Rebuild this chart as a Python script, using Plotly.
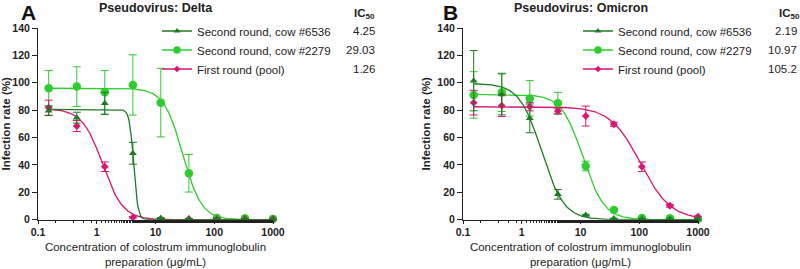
import numpy as np
import plotly.graph_objects as go

# ---------------- data ----------------
conc = [0.152, 0.457, 1.37, 4.12, 12.3, 37.0, 111.0, 333.0, 1000.0]
series_names = ["Second round, cow #6536", "Second round, cow #2279", "First round (pool)"]

# Delta
delta_6536 = [79.5, 74.5, 85.0, 48.5, 1.0, 0.5, 0.5, 0.5, 0.5]
delta_6536_err = [3.5, 4.0, 8.0, 8.0, 0.5, 0.3, 0.3, 0.3, 0.3]
delta_2279 = [96.0, 97.2, 93.0, 98.4, 85.5, 33.9, 1.2, 1.0, 0.6]
delta_2279_err = [13.0, 14.5, 16.0, 22.0, 25.0, 13.7, 0.5, 0.5, 0.3]
delta_pool = [81.8, 68.4, 38.7, 1.7, 0.5, 0.5, 0.5, 0.5, 0.5]
delta_pool_err = [5.5, 4.0, 3.5, 0.5, 0.3, 0.3, 0.3, 0.3, 0.3]

# Omicron
omi_6536 = [101.5, 91.5, 74.0, 18.5, 3.4, 0.8, 0.5, 0.5, 0.5]
omi_6536_err = [22.0, 15.0, 10.5, 3.5, 0.5, 0.3, 0.3, 0.3, 0.3]
omi_2279 = [91.1, 93.0, 88.6, 85.0, 39.2, 7.1, 1.2, 1.0, 0.6]
omi_2279_err = [17.0, 14.0, 13.0, 8.0, 3.5, 1.0, 0.4, 0.3, 0.3]
omi_pool = [85.5, 83.3, 82.5, 79.4, 75.7, 69.7, 38.7, 10.2, 2.2]
omi_pool_err = [9.0, 8.0, 3.0, 2.0, 7.3, 1.5, 3.5, 1.0, 0.5]

# fitted 4PL parameters (top, IC50, hill), bottom = 0
delta_top = [80.5, 96.0, 81.0]
delta_ic50 = [4.25, 29.03, 1.26]
delta_hill = [12.0, 2.7, 2.5]
omi_top = [99.5, 91.5, 82.5]
omi_ic50 = [2.19, 10.97, 105.2]
omi_hill = [2.3, 2.4, 1.7]

delta_ic50_text = ["4.25", "29.03", "1.26"]
omi_ic50_text = ["2.19", "10.97", "105.2"]

x_ticks = [0.1, 1, 10, 100, 1000]
x_tick_labels = ["0.1", "1", "10", "100", "1000"]
y_ticks = [0, 20, 40, 60, 80, 100, 120, 140]

# ---------------- style ----------------
colors = ["#1f7a22", "#2ecc2e", "#d8166f"]
symbols = ["triangle-up", "circle", "diamond"]
msizes = [7, 8.5, 6]
FONT = "Arial, Liberation Sans, sans-serif"

fig = go.Figure()

def curve(top, ic50, hill):
    xs = np.logspace(np.log10(conc[0]), np.log10(conc[-1]), 300)
    ys = top / (1.0 + (xs / ic50) ** hill)
    return xs, ys

panels = [
    dict(xa="x", ya="y", legend="legend",
         vals=[delta_6536, delta_2279, delta_pool],
         errs=[delta_6536_err, delta_2279_err, delta_pool_err],
         top=delta_top, ic50=delta_ic50, hill=delta_hill),
    dict(xa="x2", ya="y2", legend="legend2",
         vals=[omi_6536, omi_2279, omi_pool],
         errs=[omi_6536_err, omi_2279_err, omi_pool_err],
         top=omi_top, ic50=omi_ic50, hill=omi_hill),
]

draw_order = [1, 2, 0]
for p in panels:
    for i in draw_order:
        xs, ys = curve(p["top"][i], p["ic50"][i], p["hill"][i])
        fig.add_trace(go.Scatter(x=xs, y=ys, mode="lines", xaxis=p["xa"], yaxis=p["ya"],
                                 line=dict(color=colors[i], width=1.3),
                                 showlegend=False, hoverinfo="skip", cliponaxis=False))
    for i in draw_order:
        fig.add_trace(go.Scatter(x=conc, y=p["vals"][i], mode="markers",
                                 xaxis=p["xa"], yaxis=p["ya"],
                                 marker=dict(color=colors[i], symbol=symbols[i], size=msizes[i],
                                             line=dict(width=0)),
                                 error_y=dict(type="data", array=p["errs"][i], color=colors[i],
                                              thickness=1, width=4),
                                 showlegend=False, cliponaxis=False))
    for i in range(3):
        fig.add_trace(go.Scatter(x=[None], y=[None], mode="lines+markers",
                                 xaxis=p["xa"], yaxis=p["ya"], name=series_names[i],
                                 legend=p["legend"],
                                 line=dict(color=colors[i], width=1.3),
                                 marker=dict(color=colors[i], symbol=symbols[i], size=msizes[i] - 1)))

axis_common = dict(showline=True, linecolor="#222", linewidth=1, ticks="outside",
                   tickcolor="#222", showgrid=False, zeroline=False, automargin=False,
                   tickfont=dict(family=FONT, size=10.5, color="#222", weight="bold"))

xaxis_common = dict(axis_common, type="log", range=[-1, 3], tickvals=x_ticks,
                    ticktext=x_tick_labels, ticklen=3,
                    minor=dict(ticks="outside", ticklen=2.5, tickcolor="#222", showgrid=False),
                    title=dict(text="Concentration of colostrum immunoglobulin<br>preparation (μg/mL)",
                               font=dict(family=FONT, size=11.5, color="#222"), standoff=5))
yaxis_common = dict(axis_common, range=[0, 140], tickvals=y_ticks, ticklen=5,
                    title=dict(text="<b>Infection rate (%)</b>",
                               font=dict(family=FONT, size=11.5, color="#222"), standoff=4))

ydom = [(269 - 219.7) / 269, (269 - 28) / 269]
fig.update_layout(
    width=800, height=269,
    margin=dict(l=0, r=0, t=0, b=0, autoexpand=False),
    paper_bgcolor="white", plot_bgcolor="white",
    font=dict(family=FONT, color="#222"),
    xaxis=dict(xaxis_common, domain=[38 / 800, 273 / 800], anchor="y"),
    yaxis=dict(yaxis_common, domain=ydom, anchor="x"),
    xaxis2=dict(xaxis_common, domain=[463 / 800, 698 / 800], anchor="y2"),
    yaxis2=dict(yaxis_common, domain=ydom, anchor="x2"),
    legend=dict(x=157 / 800, y=1 - 16.5 / 269, xanchor="left", yanchor="top",
                font=dict(family=FONT, size=11.5, color="#222"), bgcolor="rgba(0,0,0,0)",
                tracegroupgap=0, itemwidth=30),
    legend2=dict(x=578 / 800, y=1 - 16.5 / 269, xanchor="left", yanchor="top",
                 font=dict(family=FONT, size=11.5, color="#222"), bgcolor="rgba(0,0,0,0)",
                 tracegroupgap=0, itemwidth=30),
    showlegend=True,
)

annotations = []
for letter, lx, title, tx in [("A", 28.5, "Pseudovirus: Delta", 155.5),
                              ("B", 450, "Pseudovirus: Omicron", 580.5)]:
    annotations.append(dict(text=f"<b>{letter}</b>", x=lx / 800, y=1 - 12 / 269, xref="paper",
                            yref="paper", showarrow=False, xanchor="center", yanchor="middle",
                            font=dict(family=FONT, size=21, color="#111")))
    annotations.append(dict(text=f"<b>{title}</b>", x=tx / 800, y=1 - 7.5 / 269, xref="paper",
                            yref="paper", showarrow=False, xanchor="center", yanchor="middle",
                            font=dict(family=FONT, size=12.5, color="#222")))

for head_x, head_anchor, right_x, texts in [(377, "right", 377, delta_ic50_text),
                                            (777, "left", 799, omi_ic50_text)]:
    annotations.append(dict(text="<b>IC<sub>50</sub></b>", x=head_x / 800, y=1 - 14 / 269,
                            xref="paper", yref="paper", showarrow=False, xanchor=head_anchor,
                            yanchor="middle", font=dict(family=FONT, size=11.5, color="#222")))
    for k, t in enumerate(texts):
        annotations.append(dict(text=t, x=right_x / 800, y=1 - (31.5 + 18.8 * k) / 269,
                                xref="paper", yref="paper", showarrow=False, xanchor="right",
                                yanchor="middle", font=dict(family=FONT, size=11.5, color="#222")))
fig.update_layout(annotations=annotations)

fig.write_html("out.html", config={"displayModeBar": False})

# remove the default page margin so the figure fills the window exactly
with open("out.html", "r", encoding="utf-8") as f:
    html = f.read()
html = html.replace("<body>", '<body style="margin:0;padding:0;overflow:hidden">', 1)
with open("out.html", "w", encoding="utf-8") as f:
    f.write(html)
